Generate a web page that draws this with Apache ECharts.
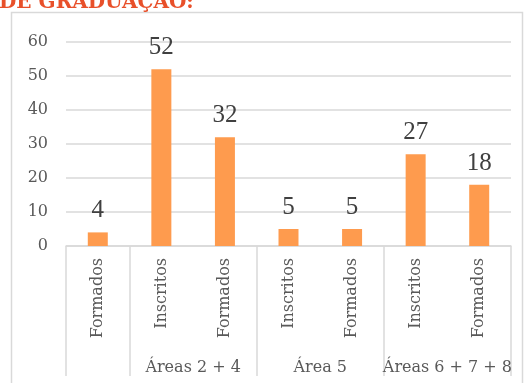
<!DOCTYPE html>
<html>
<head>
<meta charset="utf-8">
<script src="https://cdn.jsdelivr.net/npm/echarts@6/dist/echarts.min.js"></script>
<style>
  html, body { margin: 0; padding: 0; background: #fff; }
  #chart { width: 524px; height: 383px; }
</style>
</head>
<body>
<div id="chart"></div>
<script>
// Inner level: one bar per category
const categories = ['Formados', 'Inscritos', 'Formados', 'Inscritos', 'Formados', 'Inscritos', 'Formados'];
const values = [4, 52, 32, 5, 5, 27, 18];
// Outer level: group names and how many categories each one spans
const groupNames = ['', 'Áreas 2 + 4', 'Área 5', 'Áreas 6 + 7 + 8'];
const groupSizes = [1, 2, 2, 2];
const yTicks = [0, 10, 20, 30, 40, 50, 60];
const titleText = 'DE GRADUAÇÃO:';

// Group boundaries and centres on a 0..n scale (one unit per category)
const boundaries = [0];
const centres = [];
const named = [];
groupSizes.forEach(function (n, i) {
  const start = boundaries[boundaries.length - 1];
  centres.push(start + n / 2);
  boundaries.push(start + n);
  if (groupNames[i]) named.push(start + n / 2);
});

const FONT = '"DejaVu Serif", serif';
const LABEL_FONT = '"Liberation Serif", serif';
const GRID_COLOR = '#d9d9d9';
const TEXT_COLOR = '#595959';

const chart = echarts.init(document.getElementById('chart'), null, { renderer: 'canvas' });

chart.setOption({
  animation: false,
  backgroundColor: '#ffffff',
  title: {
    text: titleText,
    left: -1,
    top: -7,
    padding: 0,
    textStyle: { color: '#e8502a', fontFamily: FONT, fontWeight: 'bold', fontSize: 20 }
  },
  graphic: [{
    // frame around the chart: left, top and right edges
    type: 'polyline',
    shape: { points: [[11.5, 383], [11.5, 12.5], [522.5, 12.5], [522.5, 383]] },
    style: { fill: null, stroke: '#d9d9d9', lineWidth: 1.5 },
    silent: true
  }],
  grid: { left: 66, top: 42, width: 445, height: 204, containLabel: false },
  xAxis: [{
    type: 'category',
    data: categories,
    boundaryGap: true,
    axisLine: { show: true, lineStyle: { color: GRID_COLOR, width: 1.5 } },
    axisTick: {
      show: true,
      length: 130,
      // separators only at group boundaries
      interval: function (index) { return boundaries.indexOf(index) >= 0; },
      lineStyle: { color: GRID_COLOR, width: 1.5 }
    },
    axisLabel: {
      rotate: 90,
      margin: 12,
      interval: 0,
      color: TEXT_COLOR,
      fontFamily: FONT,
      fontSize: 16
    }
  }, {
    type: 'value',
    position: 'bottom',
    min: 0,
    max: categories.length,
    splitLine: { show: false },
    axisLine: { show: false },
    axisTick: { show: false },
    axisLabel: {
      customValues: named,
      margin: 114,
      color: TEXT_COLOR,
      fontFamily: FONT,
      fontSize: 16,
      formatter: function (v) {
        const i = centres.indexOf(v);
        return i >= 0 ? groupNames[i] : '';
      }
    }
  }],
  yAxis: {
    type: 'value',
    min: yTicks[0],
    max: yTicks[yTicks.length - 1],
    interval: yTicks[1] - yTicks[0],
    axisLine: { show: false },
    axisTick: { show: false },
    splitLine: { lineStyle: { color: GRID_COLOR, width: 1.5 } },
    axisLabel: {
      margin: 18,
      color: TEXT_COLOR,
      fontFamily: FONT,
      fontSize: 16
    }
  },
  series: [{
    type: 'bar',
    xAxisIndex: 0,
    data: values,
    barWidth: 20,
    itemStyle: { color: '#fe9b4e' },
    label: {
      show: true,
      position: 'top',
      distance: 9,
      color: '#404040',
      fontFamily: LABEL_FONT,
      fontSize: 25
    }
  }]
});
</script>
</body>
</html>
